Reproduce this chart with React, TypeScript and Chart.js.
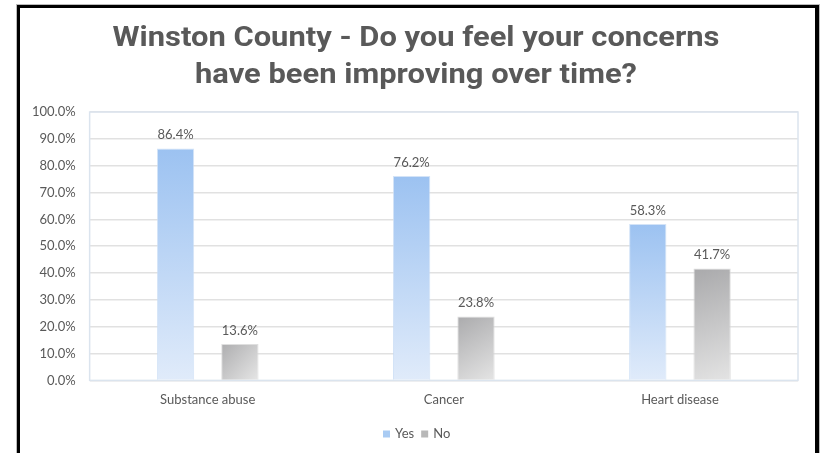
import React, { useEffect, useRef } from "react";
import { Chart, registerables } from "chart.js";

Chart.register(...registerables);

const titleLines = ["Winston County - Do you feel your concerns", "have been improving over time?"];
const categories = ["Substance abuse", "Cancer", "Heart disease"];
const yesValues = [86.4, 76.2, 58.3];
const noValues = [13.6, 23.8, 41.7];
const seriesNames = ["Yes", "No"];
const legendColors = ["#a9cbf3", "#b8b8b8"];

const TEXT = "#595959";
const FONT = "Lato, 'Open Sans', sans-serif";

const framePlugin = {
  id: "frame",
  beforeDraw(chart: any) {
    const ctx = chart.ctx;
    ctx.save();
    ctx.fillStyle = "#ffffff";
    ctx.fillRect(0, 0, chart.width, chart.height);
    ctx.fillStyle = "#bbbbbb";
    ctx.fillRect(16, 4, 804, chart.height);
    ctx.fillStyle = "#000000";
    ctx.fillRect(17, 5, 802, chart.height);
    ctx.fillStyle = "#ffffff";
    ctx.fillRect(20, 8, 795, chart.height);
    ctx.restore();
  },
  afterDraw(chart: any) {
    const ctx = chart.ctx;
    ctx.save();
    ctx.fillStyle = TEXT;
    ctx.textAlign = "center";
    ctx.textBaseline = "middle";
    ctx.font = "bold 28px Roboto, 'DejaVu Sans Condensed', sans-serif";
    const w = ctx.measureText(titleLines[0]).width;
    let s = 607 / w;
    if (s < 0.8) s = 0.8;
    if (s > 1.15) s = 1.15;
    ctx.translate(416, 0);
    ctx.scale(s, 1);
    ctx.fillText(titleLines[0], 0, 39);
    ctx.fillText(titleLines[1], 0, 76);
    ctx.restore();

    // legend
    ctx.save();
    ctx.font = "13px " + FONT;
    ctx.textBaseline = "middle";
    ctx.textAlign = "left";
    let x = 383;
    const cy = 434;
    seriesNames.forEach((name, i) => {
      ctx.fillStyle = legendColors[i];
      ctx.fillRect(x, cy - 3.5, 7, 7);
      ctx.fillStyle = TEXT;
      ctx.fillText(name, x + 12, cy);
      x += 12 + ctx.measureText(name).width + 7;
    });
    ctx.restore();
  },
  beforeDatasetsDraw(chart: any) {
    const a = chart.chartArea;
    const ctx = chart.ctx;
    ctx.save();
    ctx.strokeStyle = "#dbe4ee";
    ctx.lineWidth = 1.5;
    ctx.strokeRect(a.left, a.top, a.right - a.left, a.bottom - a.top);
    ctx.restore();
  },
};

const labelPlugin = {
  id: "valueLabels",
  afterDatasetsDraw(chart: any) {
    const ctx = chart.ctx;
    ctx.save();
    ctx.fillStyle = TEXT;
    ctx.font = "13px " + FONT;
    ctx.textAlign = "center";
    ctx.textBaseline = "bottom";
    chart.data.datasets.forEach((ds: any, i: number) => {
      const meta = chart.getDatasetMeta(i);
      meta.data.forEach((bar: any, j: number) => {
        ctx.fillText(ds.data[j].toFixed(1) + "%", bar.x, bar.y - 7);
      });
    });
    ctx.restore();
  },
};

function barTop(ctx: any) {
  const chart = ctx.chart;
  const ys = chart.scales && chart.scales.y;
  const v = ctx.raw;
  if (!ys || v === undefined) return null;
  return ys.getPixelForValue(v);
}

function barCenter(ctx: any, offset: number) {
  const chart = ctx.chart;
  const xs = chart.scales && chart.scales.x;
  if (!xs) return 0;
  return xs.getPixelForValue(ctx.dataIndex) + offset;
}

function yesGradient(ctx: any) {
  const chart = ctx.chart;
  const a = chart.chartArea;
  const top = barTop(ctx);
  if (!a || top === null) return "#a9cbf3";
  const g = chart.ctx.createLinearGradient(0, top, 0, a.bottom);
  g.addColorStop(0, "#9cc2f1");
  g.addColorStop(1, "#e0ebfa");
  return g;
}

function noGradient(ctx: any) {
  const chart = ctx.chart;
  const a = chart.chartArea;
  const top = barTop(ctx);
  if (!a || top === null) return "#b8b8b8";
  const cx = barCenter(ctx, 32);
  const g = chart.ctx.createLinearGradient(cx - 25, top, cx + 15, a.bottom);
  g.addColorStop(0, "#a8a8aa");
  g.addColorStop(1, "#e3e3e3");
  return g;
}

export default function App() {
  const ref = useRef<HTMLCanvasElement>(null);
  useEffect(() => {
    const chart = new Chart(ref.current as HTMLCanvasElement, {
      type: "bar",
      data: {
        labels: categories,
        datasets: [
          {
            label: seriesNames[0],
            data: yesValues,
            backgroundColor: yesGradient as any,
            borderColor: "rgba(200,220,245,0.8)",
            borderWidth: 1,
            barPercentage: 0.58,
            categoryPercentage: 0.545,
          },
          {
            label: seriesNames[1],
            data: noValues,
            backgroundColor: noGradient as any,
            borderColor: "rgba(215,215,215,0.8)",
            borderWidth: 1,
            barPercentage: 0.58,
            categoryPercentage: 0.545,
          },
        ],
      },
      options: {
        animation: false,
        responsive: false,
        layout: { padding: { top: 112, left: 18, right: 25, bottom: 33 } },
        plugins: {
          title: { display: false },
          tooltip: { enabled: false },
          legend: { display: false },
        },
        scales: {
          x: {
            grid: { display: false, drawTicks: false },
            border: { display: false },
            ticks: { color: TEXT, font: { size: 13, family: FONT }, padding: 12 },
          },
          y: {
            min: 0,
            max: 100,
            grid: { color: "#e1e1e1", lineWidth: 1.5, drawTicks: false },
            border: { display: false },
            ticks: {
              stepSize: 10,
              color: TEXT,
              padding: 14,
              font: { size: 13, family: FONT },
              callback: (v: any) => Number(v).toFixed(1) + "%",
            },
          },
        },
      },
      plugins: [framePlugin, labelPlugin],
    });
    return () => chart.destroy();
  }, []);
  return (
    <div style={{ position: "fixed", left: 0, top: 0, width: 823, height: 453 }}>
      <canvas ref={ref} width={823} height={453} style={{ display: "block", width: 823, height: 453 }} />
    </div>
  );
}
